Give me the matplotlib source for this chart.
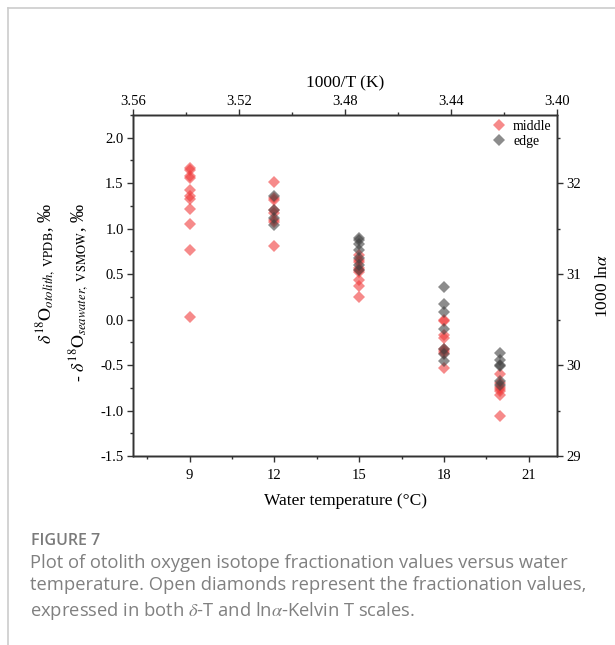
import matplotlib
matplotlib.use('Agg')
import matplotlib.pyplot as plt
from matplotlib.lines import Line2D
from matplotlib.ticker import MultipleLocator, FormatStrFormatter

plt.rcParams['font.family'] = ['Liberation Serif', 'DejaVu Serif']
plt.rcParams['mathtext.fontset'] = 'stix'

# water temperatures (deg C) of each group
temps = [9, 12, 15, 18, 20]

# delta values (permil), middle of otolith
middle_t09 = [1.67, 1.65, 1.58, 1.56, 1.43, 1.36, 1.33, 1.22, 1.05, 0.77, 0.03]
middle_t12 = [1.51, 1.34, 1.31, 1.21, 1.17, 1.10, 1.07, 0.81]
middle_t15 = [0.71, 0.65, 0.63, 0.57, 0.54, 0.52, 0.43, 0.37, 0.25]
middle_t18 = [0.00, -0.02, -0.17, -0.20, -0.32, -0.35, -0.37, -0.53]
middle_t20 = [-0.60, -0.70, -0.74, -0.76, -0.78, -0.83, -1.06]

# delta values (permil), edge of otolith
edge_t09 = []
edge_t12 = [1.36, 1.20, 1.12, 1.04]
edge_t15 = [0.90, 0.87, 0.83, 0.76, 0.68, 0.60, 0.55]
edge_t18 = [0.36, 0.17, 0.08, -0.10, -0.32, -0.38, -0.45]
edge_t20 = [-0.37, -0.44, -0.50, -0.51, -0.67, -0.72]

middle_groups = [middle_t09, middle_t12, middle_t15, middle_t18, middle_t20]
edge_groups = [edge_t09, edge_t12, edge_t15, edge_t18, edge_t20]

mx, my, ex, ey = [], [], [], []
for t, vals in zip(temps, middle_groups):
    mx += [t] * len(vals)
    my += vals
for t, vals in zip(temps, edge_groups):
    ex += [t] * len(vals)
    ey += vals

fig = plt.figure(figsize=(6.15, 6.45), dpi=100)
ax = fig.add_axes([133/615, 189/645, 424/615, 341/645])

ax.plot(mx, my, 'D', color='#f03c3c', alpha=0.6, ms=6.3, mew=0, label='middle')
ax.plot(ex, ey, 'D', color='#404040', alpha=0.6, ms=6.3, mew=0, label='edge')

ax.set_xlim(7, 22)
ax.set_ylim(-1.5, 2.25)
ax.xaxis.set_major_locator(MultipleLocator(3))
ax.xaxis.set_minor_locator(MultipleLocator(1.5))
ax.yaxis.set_major_locator(MultipleLocator(0.5))
ax.yaxis.set_minor_locator(MultipleLocator(0.25))
ax.yaxis.set_major_formatter(FormatStrFormatter('%.1f'))
ax.set_yticks([-1.5, -1.0, -0.5, 0.0, 0.5, 1.0, 1.5, 2.0])
ax.set_xlabel('Water temperature (°C)', fontsize=12.5, labelpad=8)

# top axis: 1000/T
ax2 = ax.twiny()
ax2.set_xlim(3.56, 3.40)
ax2.set_xticks([3.56, 3.52, 3.48, 3.44, 3.40])
ax2.xaxis.set_minor_locator(MultipleLocator(0.02))
ax2.xaxis.set_major_formatter(FormatStrFormatter('%.2f'))
ax2.set_xlabel('1000/T (K)', fontsize=12.5, labelpad=5)

# right axis: 1000 ln alpha
ax3 = ax.twinx()
ax3.set_ylim(29, 32.75)
ax3.set_yticks([29, 30, 31, 32])
ax3.yaxis.set_minor_locator(MultipleLocator(0.5))
ax3.set_ylabel(r'1000 ln$\alpha$', fontsize=12.5, labelpad=10)

for a in (ax, ax2, ax3):
    for s in a.spines.values():
        s.set_color('#333333')
        s.set_linewidth(1.0)
    a.tick_params(which='major', direction='out', length=4.2, width=1,
                  color='#333333', labelsize=10.5, pad=2.5)
    a.tick_params(which='minor', direction='out', length=2.3, width=1,
                  color='#333333')

ax.tick_params(top=False, right=False, which='both')
ax.tick_params(axis='x', pad=5)
ax2.tick_params(bottom=False, which='both')
ax2.tick_params(axis='x', pad=1)
ax3.tick_params(left=False, which='both')

ax.legend(loc='upper right', frameon=False, fontsize=10, handletextpad=0.4,
          borderaxespad=0.1, labelspacing=0.1, handlelength=1.2,
          bbox_to_anchor=(1.004, 1.005))

fig.text(46/615, 1 - 203/645, r'$\delta^{18}\mathrm{O}_{otolith,\ \mathrm{VPDB}}$, ‰',
         rotation=90, ha='center', va='top', fontsize=13)
fig.text(79/615, 1 - 203/645, r'- $\delta^{18}\mathrm{O}_{seawater,\ \mathrm{VSMOW}}$, ‰',
         rotation=90, ha='center', va='top', fontsize=13)

# caption
fig.text(31/615, 1 - 541/645, 'FIGURE 7', family='Open Sans', weight='semibold',
         color='#7a7a7a', fontsize=11.5, va='center')
caption = ('Plot of otolith oxygen isotope fractionation values versus water\n'
           'temperature. Open diamonds represent the fractionation values,\n'
           r'expressed in both $\delta$-T and ln$\alpha$-Kelvin T scales.')
fig.text(30/615, 1 - 554/645, caption, family='Open Sans', color='#808080',
         fontsize=13.2, va='top', linespacing=1.32)

# page border lines
fig.add_artist(Line2D([7.5/615, 7.5/615], [0, 1 - 7.5/645], transform=fig.transFigure,
                      color='#cccccc', lw=1.2))
fig.add_artist(Line2D([7.5/615, 1], [1 - 7.5/645, 1 - 7.5/645], transform=fig.transFigure,
                      color='#cccccc', lw=1.2))

fig.savefig('out.png', dpi=100)
